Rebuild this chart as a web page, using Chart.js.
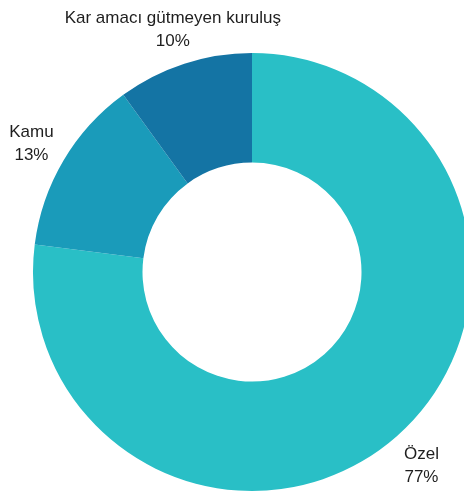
<!DOCTYPE html>
<html>
<head>
<meta charset="utf-8">
<script src="https://cdn.jsdelivr.net/npm/chart.js@4/dist/chart.umd.min.js"></script>
<style>
    html, body { margin: 0; padding: 0; background: #fff; overflow: hidden; }
    #wrap { width: 464px; height: 493px; overflow: hidden; }
</style>
</head>
<body>
<div id="wrap"><canvas id="chart" width="504" height="493"></canvas></div>
<script>
// Sector shares (percent), clockwise from 12 o'clock
const labels = ['Özel', 'Kamu', 'Kar amacı gütmeyen kuruluş'];
const values = [77, 13, 10];
const colors = ['#29bfc6', '#1a9bba', '#1474a4'];

// Draws "name / value%" outside each slice, at its mid angle
const outerLabels = {
    id: 'outerLabels',
    afterDraw(chart) {
        const ctx = chart.ctx;
        const arcs = chart.getDatasetMeta(0).data;
        ctx.save();
        ctx.font = '17px "Liberation Sans", Arial, sans-serif';
        ctx.fillStyle = '#1e1e1e';
        ctx.textAlign = 'center';
        ctx.textBaseline = 'middle';
        arcs.forEach(function(arc, i) {
            const mid = (arc.startAngle + arc.endAngle) / 2;
            const r = arc.outerRadius * 1.17;
            const x = arc.x + Math.cos(mid) * r;
            const y = arc.y + Math.sin(mid) * r + 2;
            ctx.fillText(labels[i], x, y - 11.5);
            ctx.fillText(values[i] + '%', x, y + 11.5);
        });
        ctx.restore();
    }
};

new Chart(document.getElementById('chart').getContext('2d'), {
    type: 'doughnut',
    data: {
        labels: labels,
        datasets: [{
            data: values,
            backgroundColor: colors,
            borderWidth: 0
        }]
    },
    options: {
        responsive: false,
        animation: false,
        cutout: '50%',
        layout: {
            padding: { top: 53, bottom: 2, left: 33, right: 33 }
        },
        plugins: {
            legend: { display: false },
            tooltip: { enabled: false }
        }
    },
    plugins: [outerLabels]
});
</script>
</body>
</html>
